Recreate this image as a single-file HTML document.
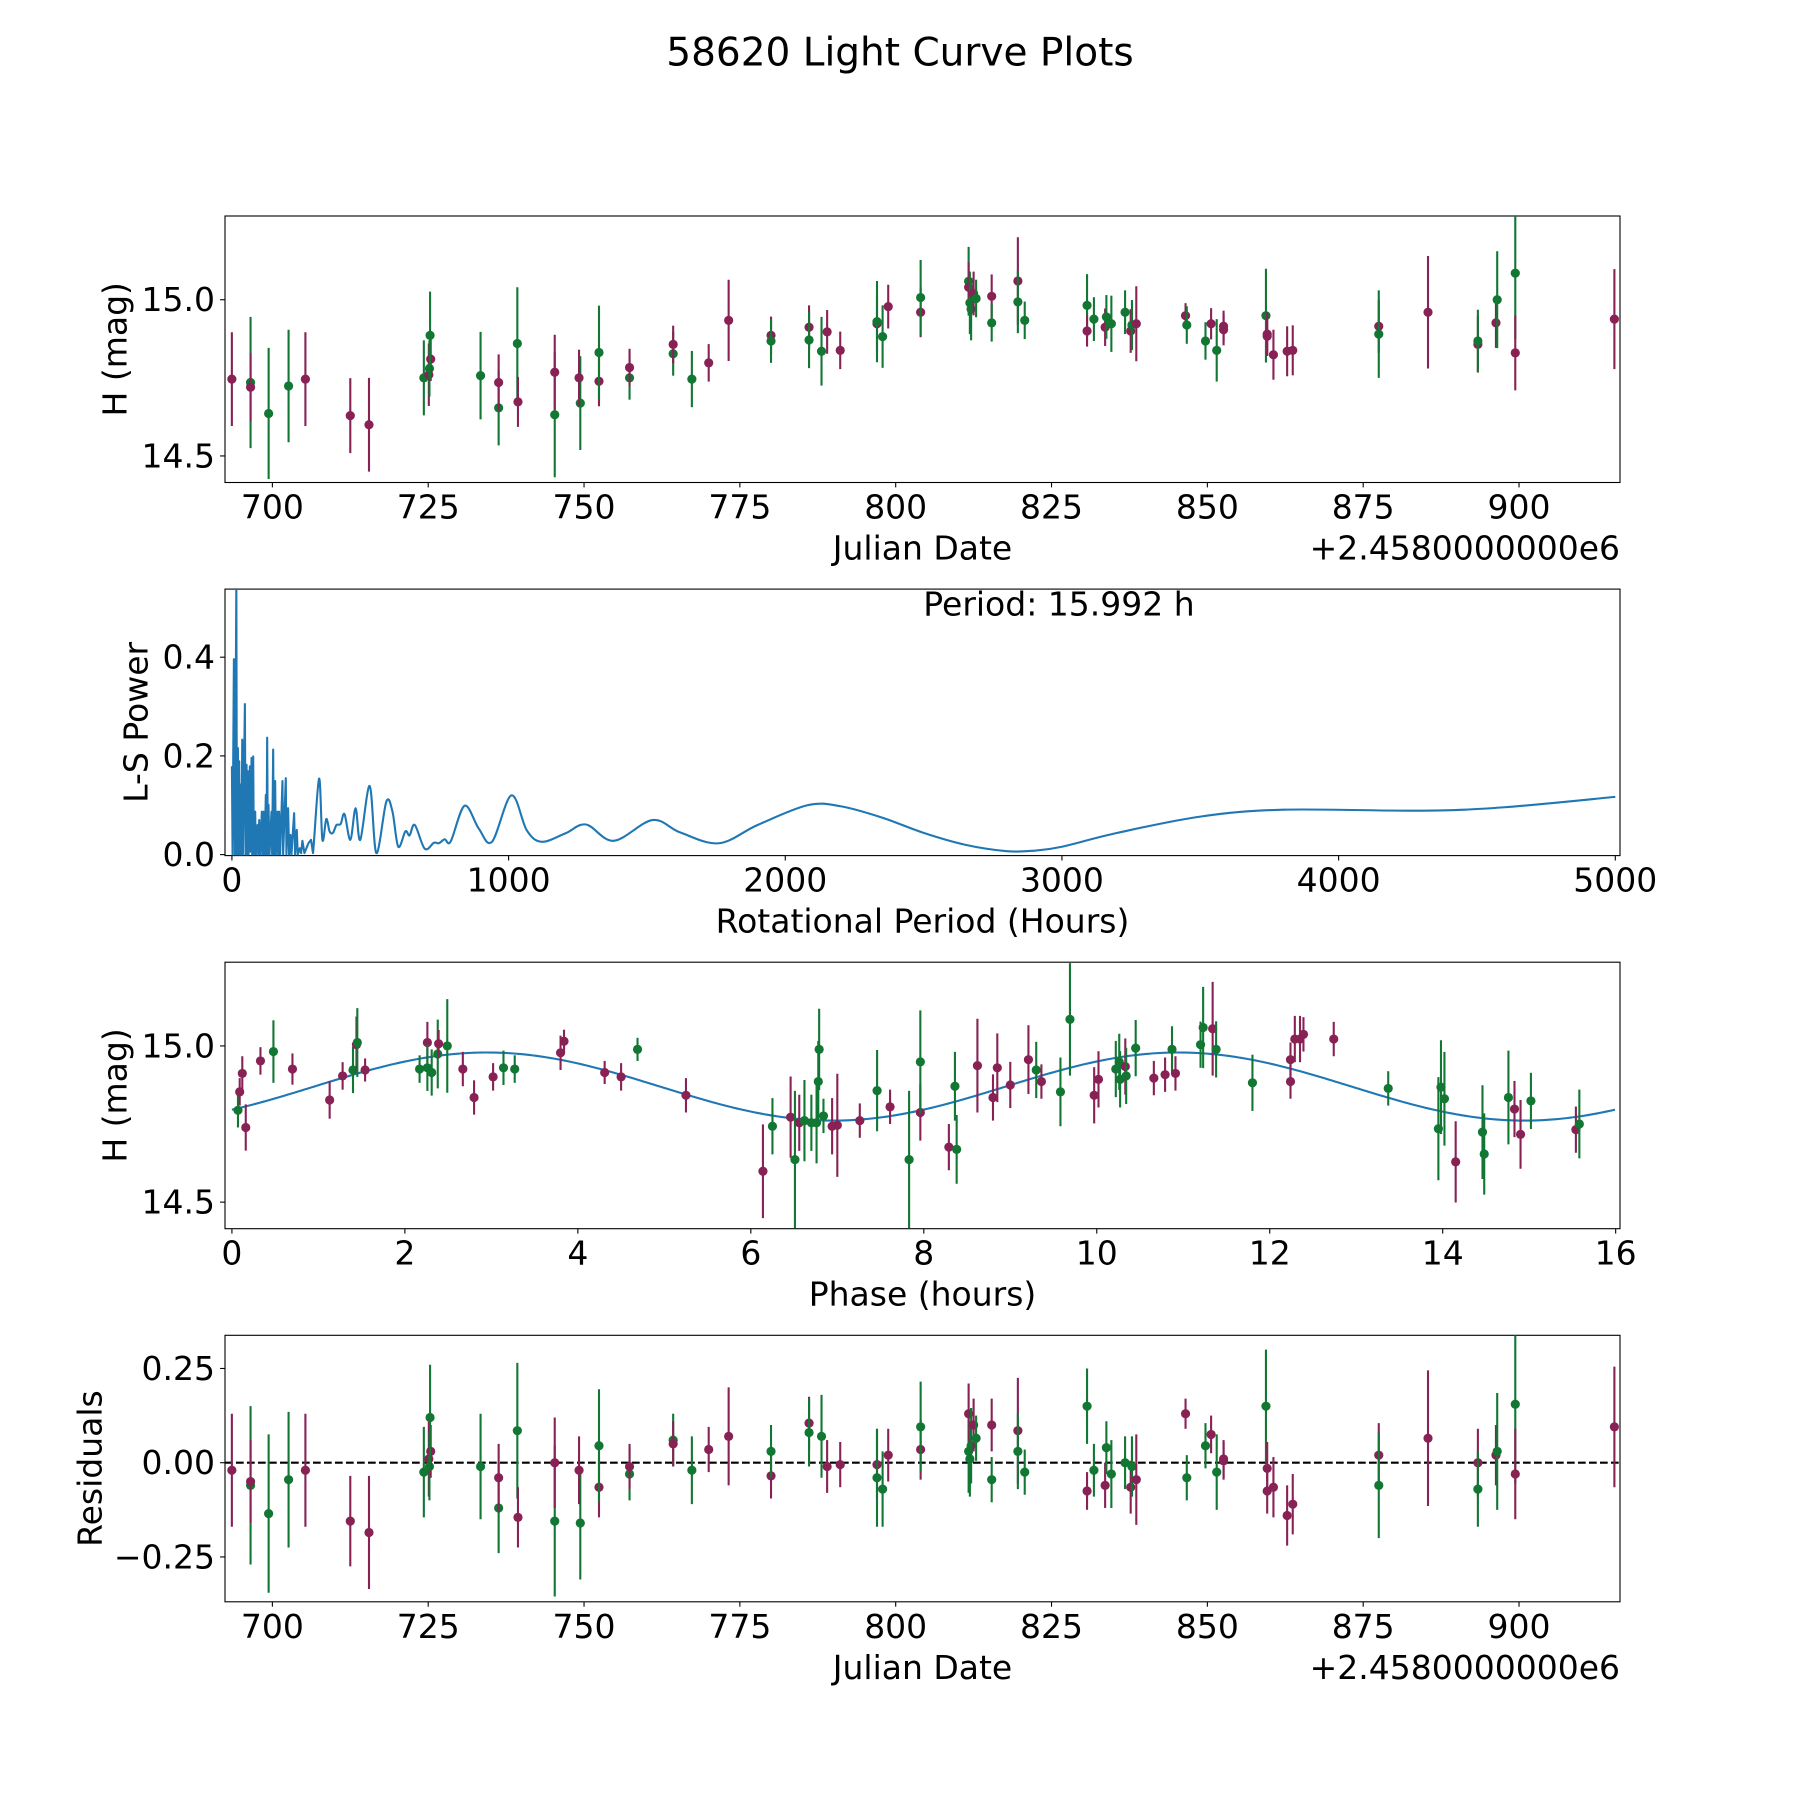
<!DOCTYPE html>
<html><head><meta charset="utf-8"><title>58620 Light Curve Plots</title>
<style>
html,body{margin:0;padding:0;background:#fff;}
svg{display:block;font-family:"DejaVu Sans","Liberation Sans",sans-serif;}
</style></head>
<body>
<svg id="fig" xmlns="http://www.w3.org/2000/svg" width="1800" height="1800" viewBox="0 0 1800 1800">
<rect x="0" y="0" width="1800" height="1800" fill="#fff"/>
<text x="900" y="53" font-size="39" text-anchor="middle" dominant-baseline="central">58620 Light Curve Plots</text>
</svg>
<script>
// ---------- Data: light curve (Julian Date offset from 2458000) ----------
const jd = [693.5,696.5,696.5,699.4,702.6,705.3,712.5,715.5,724.3,725.1,725.2,725.4,725.3,733.4,736.3,736.3,739.3,739.4,745.3,745.3,749.4,749.2,752.4,752.4,757.3,757.3,764.3,764.3,767.3,770.0,773.2,780.0,780.0,786.1,786.1,788.1,789.0,791.1,797.0,797.0,797.9,798.8,804.0,804.0,811.7,811.7,811.9,812.1,812.5,812.9,815.4,815.4,819.6,819.6,820.7,830.7,830.7,831.8,833.6,833.8,834.6,836.8,837.7,837.9,838.6,846.5,846.7,849.7,850.6,851.5,852.6,852.6,859.4,859.6,859.6,860.6,862.8,863.7,877.5,877.5,885.4,893.4,893.4,896.3,896.5,899.4,899.4,915.3];
const mag = [14.746,14.735,14.72,14.636,14.724,14.746,14.629,14.6,14.75,14.76,14.78,14.81,14.886,14.757,14.654,14.735,14.86,14.673,14.632,14.768,14.669,14.75,14.739,14.831,14.75,14.783,14.827,14.857,14.746,14.798,14.934,14.886,14.868,14.912,14.871,14.835,14.897,14.838,14.923,14.93,14.882,14.978,14.96,15.007,15.059,15.04,14.99,14.97,15.02,15.004,15.011,14.926,15.06,14.993,14.934,14.982,14.90,14.938,14.912,14.945,14.923,14.96,14.90,14.919,14.923,14.949,14.919,14.868,14.923,14.838,14.915,14.904,14.949,14.89,14.883,14.824,14.835,14.838,14.915,14.89,14.96,14.857,14.868,14.926,15.0,15.085,14.83,14.938];
const magErr = [.15,.21,.11,.21,.18,.15,.12,.15,.12,.10,.09,.07,.14,.14,.12,.09,.18,.08,.20,.12,.15,.09,.08,.15,.07,.06,.07,.06,.09,.06,.13,.06,.07,.07,.09,.11,.07,.06,.09,.13,.10,.07,.08,.12,.11,.08,.10,.10,.07,.06,.07,.06,.14,.10,.06,.10,.05,.07,.06,.07,.09,.07,.07,.08,.12,.04,.06,.06,.05,.10,.05,.05,.15,.07,.06,.08,.08,.08,.085,.14,.18,.09,.10,.08,.155,.21,.12,.16];
const filt = ["P","G","P","G","G","P","P","P","G","P","G","P","G","G","G","P","G","P","G","P","G","P","P","G","G","P","G","P","G","P","P","P","G","P","G","G","P","P","P","G","G","P","P","G","G","P","G","G","P","G","P","G","P","G","G","G","P","G","P","G","G","G","P","G","P","P","G","G","P","G","P","P","G","P","P","P","P","P","P","G","P","P","G","P","G","G","P","P"];
const resid = [-0.02,-0.06,-0.05,-0.135,-0.045,-0.02,-0.155,-0.185,-0.025,0.01,-0.01,0.03,0.12,-0.01,-0.12,-0.04,0.085,-0.145,-0.155,0,-0.16,-0.02,-0.065,0.045,-0.03,-0.01,0.06,0.05,-0.02,0.035,0.07,-0.035,0.03,0.105,0.08,0.07,-0.01,-0.005,-0.005,-0.04,-0.07,0.02,0.035,0.095,0.03,0.13,0.01,0.045,0.10,0.065,0.10,-0.045,0.085,0.03,-0.025,0.15,-0.075,-0.02,-0.06,0.04,-0.03,0,-0.065,-0.01,-0.045,0.13,-0.04,0.045,0.075,-0.025,0.005,0.01,0.15,-0.015,-0.075,-0.065,-0.14,-0.11,0.02,-0.06,0.065,0,-0.07,0.02,0.03,0.155,-0.03,0.095];

// ---------- Data: phased light curve ----------
const phase = [0.07,0.09,0.12,0.16,0.33,0.48,0.70,1.13,1.28,1.40,1.44,1.45,1.54,2.17,2.26,2.26,2.31,2.38,2.39,2.49,2.67,2.80,3.02,3.14,3.27,3.80,3.84,4.31,4.50,4.69,5.25,6.14,6.25,6.46,6.51,6.56,6.62,6.70,6.76,6.78,6.79,6.84,6.94,7.00,7.26,7.46,7.61,7.83,7.96,7.96,8.29,8.36,8.38,8.62,8.80,8.85,9.00,9.21,9.30,9.36,9.58,9.69,9.97,10.02,10.22,10.26,10.27,10.33,10.34,10.45,10.66,10.79,10.87,10.91,11.20,11.23,11.34,11.38,11.80,12.24,12.24,12.29,12.35,12.39,12.74,13.37,13.95,13.98,14.02,14.15,14.46,14.48,14.76,14.83,14.90,15.02,15.54,15.58];
const phaseMag = [14.794,14.853,14.912,14.739,14.952,14.982,14.926,14.827,14.904,14.923,15.004,15.011,14.923,14.926,15.011,14.93,14.915,14.974,15.007,15.0,14.926,14.835,14.901,14.93,14.926,14.978,15.015,14.915,14.901,14.989,14.842,14.599,14.743,14.772,14.636,14.754,14.761,14.754,14.754,14.886,14.989,14.776,14.743,14.746,14.761,14.857,14.805,14.636,14.787,14.949,14.676,14.871,14.669,14.937,14.835,14.93,14.875,14.956,14.923,14.886,14.853,15.085,14.842,14.893,14.926,14.949,14.893,14.934,14.904,14.993,14.897,14.908,14.989,14.912,15.004,15.059,15.055,14.989,14.882,14.886,14.956,15.022,15.022,15.037,15.022,14.864,14.735,14.868,14.831,14.629,14.724,14.654,14.835,14.798,14.717,14.824,14.732,14.75];
const phaseErr = [.055,.044,.055,.074,.044,.10,.05,.06,.044,.074,.09,.11,.037,.044,.066,.074,.074,.11,.044,.15,.055,.055,.044,.055,.044,.055,.037,.037,.044,.037,.055,.15,.09,.13,.22,.09,.13,.09,.13,.13,.13,.055,.09,.165,.055,.13,.055,.22,.09,.165,.074,.11,.11,.15,.074,.11,.074,.11,.09,.055,.11,.18,.09,.09,.09,.09,.09,.09,.09,.09,.055,.055,.074,.055,.074,.13,.15,.09,.09,.055,.055,.074,.074,.055,.055,.055,.165,.15,.15,.13,.15,.13,.15,.09,.11,.09,.074,.11];
const phaseFilt = ["G","P","P","P","P","G","P","P","P","G","P","G","P","G","P","G","G","G","P","G","P","P","P","G","G","P","P","P","P","G","P","P","G","P","G","P","G","G","G","G","G","G","P","P","P","G","P","G","P","G","P","G","G","P","P","P","P","P","G","P","G","G","P","P","G","G","G","P","G","G","P","P","G","P","G","G","P","G","G","P","P","P","P","P","P","G","G","G","G","P","G","G","G","P","P","G","P","G"];
// fitted model (double-peaked sinusoid)
const modelMean = 14.87, modelAmp = 0.109, modelHalfPeriod = 7.996, modelPeakPhase = 2.95, foldPeriod = 15.992;

// ---------- Data: Lomb-Scargle periodogram ----------
const periods = [0,2.4,7.2,10.8,16.0,18.0,21.6,24.0,26.4,28.8,32.5,34.9,37.3,39.7,46.9,49.3,52.9,55.3,57.7,60.1,64.9,67.3,70.9,73.3,76.9,79.3,84.1,86.5,92.6,95.0,98.6,102.2,108.2,110.6,114.2,117.8,122.6,125.0,127.4,129.8,132.2,135.8,143.0,145.4,149.1,151.5,156.3,158.7,164.7,167.1,170.7,174.3,182.7,185.1,194.7,197.1,203.1,206.7,211.6,215.2,224.8,228.4,234.4,238.0,245.2,250.0,254.8,262.0,276.5,286.1,293,315,327,341,353,365,378,393,407,428,447,464,498,522,558,580,601,627,642,661,697,730,748,769,791,841,892,940,1010,1066,1120,1205,1280,1380,1520,1620,1760,1900,2080,2200,2350,2500,2650,2800,2900,3000,3200,3500,3800,4300,4600,5000];
const powers = [.179,0,.396,0,.55,0,.216,0,.189,0,.142,0,.233,0,.305,0,.182,0,.169,0,.179,.006,.196,0,.199,0,.087,0,.060,0,.070,0,.087,0,.087,0,.121,0,.237,0,.101,0,.087,0,.213,0,.149,0,.087,0,.087,0,.149,0,.155,0,.094,0,.040,0,.084,0,.050,0,.013,.003,.028,.003,.023,.030,.003,.154,.03,.072,.047,.044,.06,.062,.082,.03,.094,.03,.139,.003,.107,.088,.016,.047,.039,.06,.012,.024,.023,.031,.027,.099,.053,.026,.12,.049,.026,.043,.061,.028,.07,.045,.023,.06,.10,.098,.075,.044,.02,.007,.008,.016,.044,.077,.091,.089,.096,.117];
const periodLabel = "Period: 15.992 h";

// tick labels
const dateTicks = [700,725,750,775,800,825,850,875,900];
const magTicks = [14.5,15.0];
const powerTicks = [0.0,0.2,0.4];
const periodTicks = [0,1000,2000,3000,4000,5000];
const phaseTicks = [0,2,4,6,8,10,12,14,16];
const residTicks = [-0.25,0.0,0.25];

const NS = "http://www.w3.org/2000/svg";
const svg = document.getElementById("fig");
const PURPLE = "#882255", GREEN = "#117733", BLUE = "#1f77b4";
function mk(tag, attrs, parent){
  const e = document.createElementNS(NS, tag);
  for (const k in attrs) e.setAttribute(k, attrs[k]);
  (parent || svg).appendChild(e);
  return e;
}
const L = 225, R = 1620, H = 266.5;
const tops = [216, 589.1, 962.2, 1335.3];
function scale(d0, d1, p0, p1){ return v => p0 + (v - d0) / (d1 - d0) * (p1 - p0); }

function axesFrame(i, name, xs, ys, xt, xfmt, yt, yfmt, xlabel, ylabel, ylabelX){
  const top = tops[i], bot = top + H;
  const g = mk("g", {});
  
  
  const frame = mk("rect", {x:L, y:top, width:R-L, height:H, fill:"none", stroke:"#000", "stroke-width":1.1}, g);
  
  
  xt.forEach(v => {
    const x = xs(v);
    const t = mk("line", {x1:x, x2:x, y1:bot, y2:bot+4.9, stroke:"#000", "stroke-width":1.1}, g);
    
    
    const lb = mk("text", {x:x, y:bot+36, "font-size":33, "text-anchor":"middle"}, g);
    
    
    lb.textContent = xfmt(v);
  });
  yt.forEach(v => {
    const y = ys(v);
    const t = mk("line", {x1:L-4.9, x2:L, y1:y, y2:y, stroke:"#000", "stroke-width":1.1}, g);
    
    
    const lb = mk("text", {x:L-10, y:y, "font-size":33, "text-anchor":"end", "dominant-baseline":"central"}, g);
    
    
    lb.textContent = yfmt(v);
  });
  const xl = mk("text", {x:(L+R)/2, y:bot+77, "font-size":33, "text-anchor":"middle"}, g);
  
  
  xl.textContent = xlabel;
  const yc = top + H/2;
  const yl = mk("text", {x:ylabelX, y:yc, "font-size":33, "text-anchor":"middle", "dominant-baseline":"central", transform:"rotate(-90 "+ylabelX+" "+yc+")"}, g);
  
  
  yl.textContent = ylabel;
  const cp = mk("clipPath", {id:"clip"+i}, g);
  mk("rect", {x:L, y:top, width:R-L, height:H}, cp);
  const plot = mk("g", {"clip-path":"url(#clip"+i+")"}, g);
  
  
  return plot;
}
function offsetText(i){
  const t = mk("text", {x:R, y:tops[i]+H+77, "font-size":33, "text-anchor":"end"});
  
  
  t.textContent = "+2.4580000000e6";
}
function errPoint(plot, x, y, y1, y2, col){
  const gp = mk("g", {}, plot);
  
  
  mk("line", {x1:x, x2:x, y1:y1, y2:y2, stroke:col, "stroke-width":2.1}, gp);
  mk("circle", {cx:x, cy:y, r:4.6, fill:col}, gp);
}
const fmtMag = v => v.toFixed(1);
const fmtInt = v => String(v);
const fmtRes = v => (v < 0 ? "\u2212" : "") + Math.abs(v).toFixed(2);

// Panel 1: light curve
const x1 = scale(692.4, 916.2, L, R);
const y1 = scale(14.415, 15.268, tops[0]+H, tops[0]);
const p1 = axesFrame(0, "light-curve-panel", x1, y1, dateTicks, fmtInt, magTicks, fmtMag, "Julian Date", "H (mag)", 115);
offsetText(0);
for (let k = 0; k < jd.length; k++){
  errPoint(p1, x1(jd[k]), y1(mag[k]), y1(mag[k]-magErr[k]), y1(mag[k]+magErr[k]), filt[k] === "P" ? PURPLE : GREEN);
}

// Panel 2: periodogram
const x2 = scale(-25, 5017, L, R);
const y2 = scale(-0.002, 0.538, tops[1]+H, tops[1]);
const p2 = axesFrame(1, "periodogram-panel", x2, y2, periodTicks, fmtInt, powerTicks, fmtMag, "Rotational Period (Hours)", "L-S Power", 136);
{
  const pts = periods.map((p, k) => [x2(p), y2(powers[k])]);
  let d = "M" + pts[0][0] + " " + pts[0][1];
  for (let k = 1; k < pts.length; k++){
    if (periods[k] <= 293){ d += " L" + pts[k][0] + " " + pts[k][1]; continue; }
    const a = pts[Math.max(k-2,0)], b = pts[k-1], c = pts[k], e = pts[Math.min(k+1, pts.length-1)];
    const c1x = b[0] + (c[0]-a[0])/6, c1y = b[1] + (c[1]-a[1])/6;
    const c2x = c[0] - (e[0]-b[0])/6, c2y = c[1] - (e[1]-b[1])/6;
    d += " C" + c1x + " " + c1y + " " + c2x + " " + c2y + " " + c[0] + " " + c[1];
  }
  const line = mk("path", {d:d, fill:"none", stroke:BLUE, "stroke-width":2.1, "stroke-linejoin":"round"}, p2);
  
  
}
const pt = mk("text", {x:1059, y:604, "font-size":33, "text-anchor":"middle", "dominant-baseline":"central"});


pt.textContent = periodLabel;

// Panel 3: phased curve
const x3 = scale(-0.08, 16.05, L, R);
const y3 = scale(14.415, 15.268, tops[2]+H, tops[2]);
const p3 = axesFrame(2, "phase-panel", x3, y3, phaseTicks, fmtInt, magTicks, fmtMag, "Phase (hours)", "H (mag)", 115);
{
  let d = "";
  for (let s = 0; s <= 400; s++){
    const ph = foldPeriod * s / 400;
    const m = modelMean + modelAmp * Math.cos(2*Math.PI*(ph - modelPeakPhase)/modelHalfPeriod);
    d += (s ? " L" : "M") + x3(ph) + " " + y3(m);
  }
  const ml = mk("path", {d:d, fill:"none", stroke:BLUE, "stroke-width":2.1}, p3);
  
  
}
for (let k = 0; k < phase.length; k++){
  errPoint(p3, x3(phase[k]), y3(phaseMag[k]), y3(phaseMag[k]-phaseErr[k]), y3(phaseMag[k]+phaseErr[k]), phaseFilt[k] === "P" ? PURPLE : GREEN);
}

// Panel 4: residuals
const y4 = scale(-0.369, 0.338, tops[3]+H, tops[3]);
const p4 = axesFrame(3, "residuals-panel", x1, y4, dateTicks, fmtInt, residTicks, fmtRes, "Julian Date", "Residuals", 90);
offsetText(3);
{
  const zl = mk("line", {x1:L, x2:R, y1:y4(0), y2:y4(0), stroke:"#000", "stroke-width":2.1, "stroke-dasharray":"7.7 3.3"}, p4);
  
  
}
for (let k = 0; k < jd.length; k++){
  errPoint(p4, x1(jd[k]), y4(resid[k]), y4(resid[k]-magErr[k]), y4(resid[k]+magErr[k]), filt[k] === "P" ? PURPLE : GREEN);
}
</script>
</body></html>
